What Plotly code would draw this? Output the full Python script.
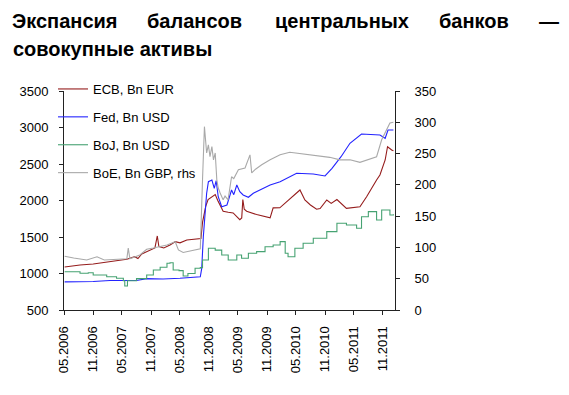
import plotly.graph_objects as go

# ---------------- data ----------------
ecb_dates = ["2006-05-05", "2006-07-01", "2006-08-10", "2006-11-01", "2007-02-15", "2007-06-01",
             "2007-07-21", "2007-08-10", "2007-09-03", "2007-10-25", "2007-11-25", "2007-12-10",
             "2007-12-20", "2008-01-20", "2008-02-28", "2008-04-01", "2008-05-01", "2008-06-13",
             "2008-08-15", "2008-09-10", "2008-09-20", "2008-10-10", "2008-10-25", "2008-12-09",
             "2008-12-25", "2009-01-28", "2009-03-01", "2009-04-01", "2009-05-13", "2009-05-25",
             "2009-06-01", "2009-06-10", "2009-06-25", "2009-08-27", "2009-11-20", "2009-12-09",
             "2010-01-20", "2010-04-13", "2010-05-27", "2010-06-27", "2010-08-01", "2010-09-09",
             "2010-10-01", "2010-11-12", "2010-12-10", "2011-01-15", "2011-03-16", "2011-06-09",
             "2011-07-21", "2011-09-22", "2011-10-13", "2011-11-15", "2011-11-30", "2011-12-26",
             "2012-01-06"]
ecb_values = [1090, 1110, 1117, 1130, 1160, 1195,
              1230, 1205, 1267, 1320, 1350, 1514,
              1370, 1350, 1390, 1436, 1420, 1459,
              1468, 1480, 1700, 1920, 2014, 2082,
              2000, 1853, 1840, 1830, 1738, 1760,
              2014, 1880, 1853, 1807, 1762, 1899,
              1900, 2052, 2144, 2007, 1939, 1880,
              1890, 2007, 1960, 2014, 1893, 1915,
              2052, 2281, 2350, 2555, 2737, 2692,
              2680]

fed_dates = ["2006-05-05", "2006-11-01", "2007-02-15", "2007-05-20", "2007-08-01", "2007-10-04",
             "2008-01-15", "2008-05-01", "2008-07-22", "2008-09-06", "2008-09-15", "2008-09-25",
             "2008-10-16", "2008-10-27", "2008-11-18", "2008-12-03", "2008-12-15", "2008-12-28",
             "2009-01-19", "2009-02-21", "2009-03-22", "2009-04-05", "2009-04-24", "2009-05-13",
             "2009-06-03", "2009-07-06", "2009-08-06", "2009-09-18", "2009-11-20", "2010-01-22",
             "2010-05-06", "2010-08-19", "2010-11-01", "2010-12-15", "2011-02-10", "2011-04-07",
             "2011-06-19", "2011-10-13", "2011-11-15", "2011-12-03", "2012-01-06"]
fed_values = [885, 890, 905, 910, 905, 930,
              925, 935, 945, 955, 1071, 1504,
              2099, 2258, 2281, 2167, 2271, 2052,
              1915, 1939, 2144, 2080, 2212, 2121,
              2076, 2044, 2099, 2144, 2212, 2258,
              2373, 2363, 2336, 2441, 2600, 2784,
              2911, 2898, 2852, 2966, 2966]

boj_dates = ["2006-05-05", "2006-08-10", "2006-10-01", "2006-11-01", "2007-01-25", "2007-03-28",
             "2007-05-10", "2007-05-19", "2007-06-05", "2007-08-01", "2007-10-04", "2007-11-15",
             "2007-12-28", "2008-02-09", "2008-02-28", "2008-03-19", "2008-04-25", "2008-05-21",
             "2008-06-20", "2008-08-04", "2008-09-06", "2008-09-20", "2008-10-27", "2008-12-09",
             "2009-01-19", "2009-03-01", "2009-04-24", "2009-05-24", "2009-07-06", "2009-08-27",
             "2009-10-19", "2009-12-09", "2010-01-22", "2010-02-23", "2010-03-13", "2010-04-25",
             "2010-06-16", "2010-08-19", "2010-11-12", "2011-01-15", "2011-03-16", "2011-05-19",
             "2011-06-19", "2011-08-01", "2011-09-22", "2011-10-24", "2011-12-15", "2012-01-06"]
boj_values = [1025, 1003, 1010, 980, 956, 934,
              900, 829, 900, 930, 980, 1048,
              1085, 1140, 1148, 1048, 1040, 966,
              1000, 1071, 1080, 1185, 1345, 1320,
              1254, 1185, 1254, 1208, 1277, 1299,
              1367, 1390, 1436, 1277, 1230, 1345,
              1414, 1482, 1573, 1688, 1665, 1619,
              1778, 1847, 1733, 1870, 1802, 1810]

boe_dates = ["2006-05-05", "2006-07-01", "2006-09-21", "2006-11-25", "2007-01-10", "2007-03-20",
             "2007-06-01", "2007-06-10", "2007-06-20", "2007-08-22", "2007-10-04", "2007-11-15",
             "2007-12-28", "2008-02-09", "2008-04-01", "2008-04-21", "2008-05-21", "2008-08-15",
             "2008-09-06", "2008-09-20", "2008-10-02", "2008-10-16", "2008-10-27", "2008-11-06",
             "2008-11-18", "2008-11-28", "2008-12-09", "2008-12-19", "2008-12-28", "2009-01-09",
             "2009-01-28", "2009-02-09", "2009-02-28", "2009-03-22", "2009-04-05", "2009-05-04",
             "2009-06-15", "2009-07-16", "2009-07-27", "2009-08-20", "2009-09-28", "2009-11-20",
             "2010-01-22", "2010-03-24", "2010-05-27", "2010-07-28", "2010-10-01", "2010-12-01",
             "2011-02-03", "2011-04-07", "2011-06-09", "2011-08-12", "2011-09-22", "2011-10-24",
             "2011-11-15", "2011-12-15", "2012-01-06"]
boe_values = [86, 83, 80, 85, 80, 81,
              82, 99, 82, 88, 97, 99,
              101, 104, 109, 96, 92, 97,
              98, 208, 293, 251, 264, 245,
              261, 240, 251, 208, 195, 187,
              176, 182, 176, 213, 210, 224,
              227, 248, 219, 225, 232, 240,
              248, 252, 250, 248, 245, 244,
              240, 240, 236, 241, 245, 272,
              283, 299, 300]

series_names = ["ECB, Bn EUR", "Fed, Bn USD", "BoJ, Bn USD", "BoE, Bn GBP, rhs"]

tick_dates = ["2006-05-01", "2006-11-01", "2007-05-01", "2007-11-01", "2008-05-01", "2008-11-01",
              "2009-05-01", "2009-11-01", "2010-05-01", "2010-11-01", "2011-05-01", "2011-11-01"]
tick_labels = ["05.2006", "11.2006", "05.2007", "11.2007", "05.2008", "11.2008",
               "05.2009", "11.2009", "05.2010", "11.2010", "05.2011", "11.2011"]

title_line1_words = ["Экспансия", "балансов", "центральных", "банков", "—"]
title_line2 = "совокупные активы"

# ---------------- figure ----------------
# the page body has an 8px margin, so the figure is drawn 8px smaller and offset
OFF = 8
W, H = 569 - OFF, 395 - OFF
L, R, T, B = 64, 395, 91, 310   # plot area in window pixels
FONT = "Liberation Sans, Arial, sans-serif"

def px_x(p):
    return (p - L) / (R - L)

def px_y(p):
    return (B - p) / (B - T)

fig = go.Figure()
fig.add_trace(go.Scatter(x=ecb_dates, y=ecb_values, name=series_names[0], mode="lines",
                         line=dict(color="#951c1c", width=1.1), legendgroup="a"))
fig.add_trace(go.Scatter(x=fed_dates, y=fed_values, name=series_names[1], mode="lines",
                         line=dict(color="#2323ff", width=1.1), legendgroup="b"))
fig.add_trace(go.Scatter(x=boj_dates, y=boj_values, name=series_names[2], mode="lines",
                         line=dict(color="#46a272", width=1.1, shape="hv"), legendgroup="c"))
fig.add_trace(go.Scatter(x=boe_dates, y=boe_values, name=series_names[3], mode="lines",
                         line=dict(color="#a9a9a9", width=1.1), legendgroup="d", yaxis="y2"))

axis_common = dict(showline=True, linecolor="#222", linewidth=1, showgrid=False, zeroline=False,
                   ticks="outside", ticklen=4, tickcolor="#222",
                   tickfont=dict(family=FONT, size=13, color="#000"))

fig.update_layout(
    width=W, height=H,
    margin=dict(l=L - OFF, r=569 - R, t=T - OFF, b=395 - B, pad=0),
    paper_bgcolor="white", plot_bgcolor="white",
    font=dict(family=FONT, size=13, color="#000"),
    xaxis=dict(type="date", range=["2006-05-01", "2012-01-16"], tickvals=tick_dates,
               ticktext=tick_labels, tickangle=-90, ticklabelstandoff=6, **axis_common),
    yaxis=dict(range=[500, 3500], dtick=500, ticklabelstandoff=8, **axis_common),
    yaxis2=dict(range=[0, 350], dtick=50, overlaying="y", side="right", ticklabelstandoff=12,
                **axis_common),
    showlegend=True,
    legend=dict(x=px_x(53), y=px_y(74), xanchor="left", yanchor="top",
                bgcolor="rgba(0,0,0,0)", borderwidth=0, tracegroupgap=8,
                font=dict(family=FONT, size=13, color="#000"), traceorder="grouped"),
)

# title, justified across the width like the original
word_centres = [64.5, 194, 342, 474, 549]
annotations = []
for w, cx in zip(title_line1_words, word_centres):
    annotations.append(dict(text="<b>%s</b>" % w, xref="paper", yref="paper", x=px_x(cx), y=px_y(21),
                            xanchor="center", yanchor="middle", showarrow=False,
                            font=dict(family=FONT, size=20, color="#000")))
annotations.append(dict(text="<b>%s</b>" % title_line2, xref="paper", yref="paper", x=px_x(11),
                        y=px_y(49.5), xanchor="left", yanchor="middle", showarrow=False,
                        font=dict(family=FONT, size=20, color="#000")))
fig.update_layout(annotations=annotations)

fig.write_html("out.html")
